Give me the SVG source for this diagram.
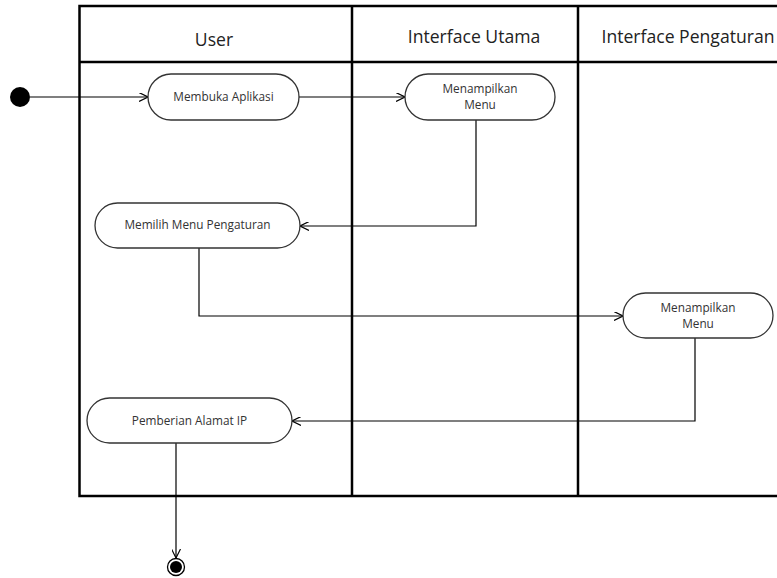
<svg xmlns="http://www.w3.org/2000/svg" width="777" height="578" viewBox="0 0 777 578">
<style>
.lane{fill:none;stroke:#000;stroke-width:2.5}
.node{fill:#fff;stroke:#333;stroke-width:1.3}
.lbl{font-family:"Open Sans","Liberation Sans",sans-serif;font-size:11.8px;fill:#333;text-anchor:middle}
.hdr{font-family:"Open Sans","Liberation Sans",sans-serif;font-size:17.6px;fill:#222;text-anchor:middle}
.edge{fill:none;stroke:#000;stroke-width:1.2}
</style>
<defs>
<marker id="arr" viewBox="0 0 10 10" refX="10" refY="5" markerWidth="9" markerHeight="9" markerUnits="userSpaceOnUse" orient="auto">
<path d="M0,0 L10,5 L0,10" fill="none" stroke="#000" stroke-width="1.3"/>
</marker>
</defs>
<rect width="777" height="578" fill="#fff"/>
<g id="swimlanes">
<rect class="lane" x="79.5" y="6" width="720" height="490"/>
<line class="lane" x1="79.5" y1="62" x2="800" y2="62"/>
<line class="lane" x1="352" y1="6" x2="352" y2="496"/>
<line class="lane" x1="578" y1="6" x2="578" y2="496"/>
<text class="hdr" x="214" y="46">User</text>
<text class="hdr" x="474" y="43">Interface Utama</text>
<text class="hdr" x="688" y="43">Interface Pengaturan</text>
</g>
<g id="connectors">
<path class="edge" d="M30,97 H148" marker-end="url(#arr)"/>
<path class="edge" d="M299,97 H405" marker-end="url(#arr)"/>
<path class="edge" d="M476,120 V226 H300" marker-end="url(#arr)"/>
<path class="edge" d="M199,248 V316 H623" marker-end="url(#arr)"/>
<path class="edge" d="M695,338 V421 H292" marker-end="url(#arr)"/>
<path class="edge" d="M176,443 V558" marker-end="url(#arr)"/>
</g>
<g id="start"><circle cx="20" cy="97" r="10" fill="#000"/></g>
<g id="membuka">
<rect class="node" x="148" y="74" width="151" height="46" rx="23"/>
<text class="lbl" x="223.5" y="101">Membuka Aplikasi</text>
</g>
<g id="menampilkan1">
<rect class="node" x="405" y="74" width="150" height="46" rx="23"/>
<text class="lbl" x="480" y="93">Menampilkan</text>
<text class="lbl" x="480" y="109">Menu</text>
</g>
<g id="memilih">
<rect class="node" x="95" y="203" width="205" height="45" rx="22.5"/>
<text class="lbl" x="197.5" y="229">Memilih Menu Pengaturan</text>
</g>
<g id="menampilkan2">
<rect class="node" x="623" y="293" width="150" height="45" rx="22.5"/>
<text class="lbl" x="698" y="312">Menampilkan</text>
<text class="lbl" x="698" y="328">Menu</text>
</g>
<g id="pemberian">
<rect class="node" x="87" y="398" width="205" height="45" rx="22.5"/>
<text class="lbl" x="189.5" y="425">Pemberian Alamat IP</text>
</g>
<g id="end">
<circle cx="176" cy="567" r="8.5" fill="#fff" stroke="#000" stroke-width="1.3"/>
<circle cx="176" cy="567" r="6" fill="#000"/>
</g>
</svg>
